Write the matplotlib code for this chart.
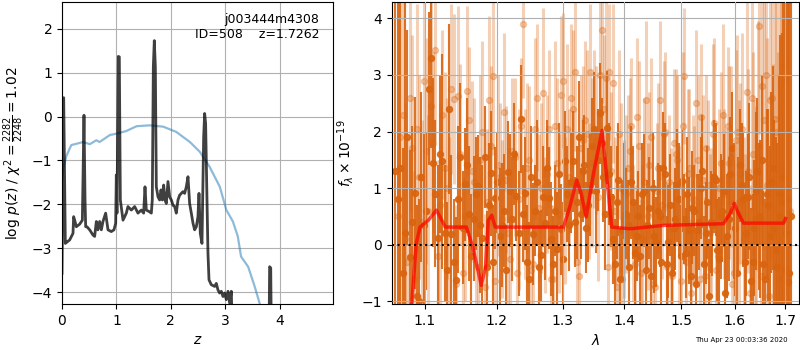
import numpy as np
import matplotlib
matplotlib.use('Agg')
import matplotlib.pyplot as plt

# ---- p(z) panel ----
z_prior = [0.0, 0.03, 0.08, 0.17, 0.39, 0.51, 0.63, 0.69, 0.88, 1.0, 1.18, 1.37,
           1.61, 1.86, 2.1, 2.35, 2.53, 2.71, 2.9, 3.02, 3.14, 3.23, 3.29, 3.42,
           3.54, 3.63, 3.70]
logp_prior = [-1.45, -1.15, -0.9, -0.65, -0.58, -0.63, -0.54, -0.58, -0.42, -0.39,
              -0.33, -0.22, -0.2, -0.23, -0.35, -0.58, -0.8, -1.14, -1.6, -2.13,
              -2.39, -2.73, -3.19, -3.42, -3.87, -4.25, -4.6]

z_fit = [0.000, 0.031, 0.061, 0.080, 0.141, 0.202, 0.214, 0.233, 0.263, 0.325,
         0.374, 0.404, 0.423, 0.435, 0.459, 0.508, 0.570, 0.600, 0.631, 0.661,
         0.692, 0.723, 0.753, 0.802, 0.845, 0.906, 0.955, 0.986, 0.998, 1.010,
         1.035, 1.053, 1.072, 1.121, 1.182, 1.212, 1.274, 1.335, 1.396, 1.457,
         1.500, 1.525, 1.549, 1.610, 1.641, 1.659, 1.678, 1.696, 1.715, 1.733,
         1.764, 1.794, 1.819, 1.843, 1.868, 1.892, 1.917, 1.947, 1.978, 2.009,
         2.039, 2.070, 2.100, 2.131, 2.162, 2.192, 2.223, 2.253, 2.284, 2.315,
         2.345, 2.376, 2.407, 2.437, 2.468, 2.498, 2.517, 2.541, 2.572, 2.603,
         2.621, 2.639, 2.664, 2.682, 2.701, 2.743, 2.805, 2.835, 2.866, 2.896,
         2.927, 2.958, 2.988, 3.019, 3.050, 3.080, 3.111, 3.123, 3.300, 3.800,
         3.815, 3.835, 3.850, 4.980]
logp_fit = [-3.57, 0.43, -2.89, -2.87, -2.81, -2.66, -2.28, -2.36, -2.51, -2.45,
            -2.36, 0.03, -1.90, -2.51, -2.51, -2.58, -2.70, -2.73, -2.39, -2.58,
            -2.39, -2.58, -2.39, -2.20, -2.58, -2.62, -2.58, -2.43, -1.33, -2.20,
            1.37, 1.36, -1.90, -2.36, -2.20, -2.05, -2.13, -2.05, -2.20, -2.13,
            -2.20, -1.60, -2.13, -2.17, -2.20, -1.90, 1.13, 1.73, 1.13, -1.60,
            -1.83, -1.90, -1.67, -1.90, -1.56, -1.90, -1.98, -1.48, -1.83, -1.90,
            -2.02, -2.05, -2.20, -1.90, -1.79, -1.75, -1.71, -1.75, -1.60, -1.37,
            -1.98, -2.20, -2.43, -2.58, -2.51, -2.28, -1.75, -2.66, -2.89, -0.46,
            0.07, -0.16, -1.90, -3.11, -3.72, -3.83, -3.87, -3.80, -3.95, -4.02,
            -3.98, -4.10, -4.02, -4.17, -3.98, -4.25, -3.98, -4.63, -5.5, -5.5,
            -3.42, -3.45, -5.5, -6.0]

# ---- spectrum panel: two dark and two light sets of binned fluxes ----
flux_a = [1.30, 1.35, 0.20, -0.22, 0.91, -1.00, 0.35, 2.76, 1.45, 0.11,
          1.47, -0.45, 0.19, -0.62, 1.55, 1.07, 0.55, 0.46, 1.03, 0.11,
          -0.40, 1.26, 0.82, 0.15, 0.60, 1.28, 0.45, 0.86, 2.22, 0.91,
          -0.60, 0.19, 1.11, -0.19, 0.38, 0.83, -0.34, -0.07, 0.27, 1.47,
          0.34, 1.47, 0.75, 0.55, 1.40, 0.70, 1.75, 0.95, 2.32, 1.20,
          2.07, 0.85, -0.35, 1.15, 0.25, 0.55, -0.40, 0.75, 0.15, -0.20,
          0.95, 0.35, -0.55, 0.15, 0.60, -0.30, 1.25, 0.05, -0.50, 0.45,
          0.80, 1.12, -0.15, 0.25, 0.65, -0.70, 0.40, 1.30, 0.20, -0.90,
          0.35, 1.15, -0.25, 0.60, -0.85, 0.45, 1.70, 0.30, 0.55, 1.05,
          -0.30, 0.85, -0.65, 0.30, 1.30, 0.45, -0.35, 0.90, 0.15, 1.35,
          -0.10, 0.50, 0.75, -0.45, -0.66, 0.50]
err_a = [6.0, 6.0, 6.0, 1.9, 1.7, 1.8, 1.6, 1.35, 1.5, 1.3,
         1.9, 1.2, 1.4, 1.1, 1.3, 1.0, 1.2, 1.1, 0.9, 1.3,
         1.0, 1.1, 0.9, 1.2, 1.0, 0.9, 1.1, 0.8, 0.95, 1.0,
         1.0, 0.9, 1.1, 0.8, 1.0, 0.9, 0.85, 1.0, 0.8, 0.9,
         0.8, 0.9, 1.0, 0.8, 0.9, 1.0, 0.85, 1.1, 0.9, 0.8,
         1.0, 0.9, 0.8, 1.0, 0.9, 0.8, 0.9, 1.0, 0.8, 0.9,
         1.0, 0.8, 0.9, 1.0, 0.85, 0.8, 0.9, 1.0, 0.8, 0.9,
         1.0, 0.9, 0.8, 0.95, 1.0, 0.9, 0.85, 1.0, 0.9, 1.0,
         0.9, 1.0, 1.1, 0.9, 1.0, 1.1, 1.0, 1.2, 1.0, 1.1,
         1.2, 1.1, 1.3, 1.2, 1.3, 1.4, 1.3, 1.5, 1.6, 1.8,
         2.0, 2.5, 3.0, 6.0, 6.0, 6.0]

flux_c = [0.8, -0.5, 1.9, 0.4, -0.9, 1.2, 0.6, 3.3, 0.9, 1.6,
          0.2, 2.4, -0.3, 0.8, 0.3, 1.4, -0.2, 0.9, 0.35, 1.55,
          0.7, -0.3, 1.1, 0.35, -0.45, 0.95, 1.6, 0.2, 0.55, -0.3,
          1.2, 0.6, -0.4, 0.85, 1.35, 0.1, 0.6, 1.25, -0.25, 0.9,
          1.1, 0.4, 1.9, 1.3, 0.3, 1.05, 2.05, 1.5, 1.8, 0.55,
          1.25, 0.1, 0.75, -0.6, 0.95, 0.35, 1.1, -0.15, 0.5, 0.9,
          -0.45, 0.65, 1.0, 0.05, 0.5, 1.35, -0.35, 0.7, 0.3, 1.05,
          -0.2, 0.45, 0.9, -0.55, 0.6, 0.25, 1.0, -0.35, 0.75, 0.4,
          1.2, -0.1, 0.5, 0.95, 0.15, 1.25, 0.6, -0.5, 1.4, 0.8,
          0.2, 1.2, -0.3, 0.95, 0.5, 1.5, -0.6, 0.7, 1.1, 0.3,
          -0.4, 0.9, 1.2, 0.2, -0.5]
err_c = [6.0, 2.2, 1.9, 1.7, 1.6, 1.5, 1.4, 1.6, 1.3, 1.4,
         1.2, 1.5, 1.1, 1.3, 1.0, 1.2, 1.1, 1.0, 1.2, 0.9,
         1.1, 1.0, 0.9, 1.1, 0.8, 1.0, 0.9, 1.1, 0.85, 1.0,
         0.9, 0.8, 1.0, 0.9, 0.85, 1.0, 0.8, 0.9, 1.0, 0.85,
         0.9, 0.8, 1.0, 0.9, 0.8, 0.9, 1.0, 0.9, 0.8, 1.0,
         0.9, 0.8, 1.0, 0.9, 0.85, 0.8, 1.0, 0.9, 0.8, 0.9,
         0.8, 0.9, 1.0, 0.8, 0.9, 1.0, 0.85, 0.9, 0.8, 1.0,
         0.9, 0.8, 1.0, 0.9, 0.8, 1.0, 0.9, 0.85, 1.0, 0.9,
         1.0, 0.9, 1.1, 1.0, 1.1, 1.0, 1.2, 1.1, 1.0, 1.2,
         1.1, 1.3, 1.2, 1.4, 1.3, 1.5, 1.4, 1.7, 1.6, 1.9,
         2.2, 2.8, 6.0, 6.0, 6.0]

flux_b = [0.5, 2.3, -0.3, 1.7, 2.05, 0.4, 1.65, 2.45, 3.44, 0.7,
          1.35, 0.3, 2.58, 2.62, -0.5, 2.72, 1.3, 0.2, 1.5, -0.75,
          2.55, 2.98, 1.4, 0.45, 1.15, -0.25, 1.55, 0.8, 3.9, 1.35,
          -0.45, 2.05, 0.65, 2.68, 1.25, -0.6, 2.1, 0.55, 2.9, 2.05,
          2.6, 3.05, -0.55, 1.85, 1.95, 3.05, 2.05, 0.85, 3.8, 2.95,
          3.05, 2.85, -0.75, 1.0, 0.45, 1.35, 2.1, -0.35, 1.75, 0.1,
          2.55, 1.4, -0.7, 0.95, 2.55, 1.95, -0.4, 0.3, 1.8, 1.5,
          -0.65, 2.98, 1.25, -0.85, 0.7, 1.5, 2.25, -0.55, 1.05, 0.4,
          2.15, -0.2, 1.45, 0.9, 2.1, 1.55, -0.5, 2.0, 1.25, 0.1,
          2.7, -0.85, 1.6, 0.45, 3.86, 2.8, 3.0, -0.9, 2.6, 2.22,
          0.4, 1.3, 3.15, 1.0, 0.6]
err_b = [6, 6, 2.2, 2.0, 2.2, 1.8, 2.0, 1.9, 1.6, 1.8,
         1.7, 1.6, 1.5, 1.6, 1.7, 1.5, 1.6, 1.4, 1.5, 1.3,
         1.5, 1.4, 1.6, 1.4, 1.3, 1.5, 1.4, 1.6, 1.3, 1.5,
         1.4, 1.6, 1.3, 1.5, 1.4, 1.3, 1.5, 1.4, 1.2, 1.5,
         1.3, 1.4, 1.5, 1.3, 1.5, 1.2, 1.4, 1.5, 1.3, 1.4,
         1.2, 1.4, 1.3, 1.5, 1.4, 1.3, 1.2, 1.4, 1.5, 1.3,
         1.4, 1.3, 1.5, 1.2, 1.4, 1.3, 1.5, 1.4, 1.3, 1.5,
         1.4, 1.2, 1.5, 1.3, 1.4, 1.5, 1.3, 1.4, 1.5, 1.3,
         1.5, 1.4, 1.6, 1.5, 1.4, 1.6, 1.5, 1.7, 1.6, 1.8,
         1.7, 1.9, 1.8, 2.0, 1.9, 2.1, 2.2, 2.4, 2.3, 2.6,
         3.0, 6, 6, 6, 6]

flux_d = [1.9, 0.1, 2.6, -0.6, 1.2, 2.9, 0.6, 1.8, -0.2, 2.3,
          1.0, 2.75, -0.7, 1.6, 0.5, 2.2, 1.1, -0.4, 2.0, 0.75,
          1.75, -0.65, 1.2, 2.35, 0.2, 1.65, -0.5, 2.1, 0.9, 1.5,
          -0.35, 2.6, 1.0, 0.35, 2.05, -0.6, 1.45, 2.65, 0.6, 1.2,
          2.4, -0.3, 1.7, 2.2, 0.95, 1.45, 1.85, 3.0, 2.4, -0.4,
          1.3, 0.6, 1.95, -0.6, 0.9, 1.65, 0.2, 2.25, -0.5, 1.1,
          0.5, 1.9, -0.75, 1.35, 0.7, 2.0, 1.1, -0.55, 1.6, 0.35,
          2.1, -0.3, 1.35, 0.8, 2.5, -0.6, 1.15, 1.7, 0.2, 1.95,
          -0.45, 1.0, 2.3, 0.55, 1.45, -0.7, 1.85, 0.75, 2.05, -0.3,
          1.3, 2.6, 0.45, 1.75, -0.55, 2.2, 1.05, 2.55, 0.2, 2.0,
          -0.6, 1.4, 2.9, 0.8]
err_d = [6, 2.4, 2.0, 1.9, 1.8, 1.9, 1.7, 1.6, 1.7, 1.5,
         1.6, 1.5, 1.4, 1.6, 1.5, 1.3, 1.5, 1.4, 1.6, 1.3,
         1.4, 1.5, 1.3, 1.4, 1.5, 1.3, 1.4, 1.2, 1.5, 1.3,
         1.4, 1.3, 1.5, 1.2, 1.4, 1.3, 1.5, 1.4, 1.3, 1.2,
         1.4, 1.5, 1.3, 1.4, 1.2, 1.5, 1.3, 1.4, 1.3, 1.2,
         1.4, 1.3, 1.5, 1.2, 1.4, 1.3, 1.2, 1.4, 1.3, 1.5,
         1.3, 1.4, 1.2, 1.5, 1.3, 1.4, 1.2, 1.3, 1.5, 1.4,
         1.3, 1.2, 1.4, 1.5, 1.3, 1.4, 1.5, 1.3, 1.4, 1.6,
         1.5, 1.4, 1.6, 1.5, 1.7, 1.5, 1.6, 1.8, 1.7, 1.9,
         1.8, 2.0, 2.1, 2.2, 2.4, 2.3, 2.6, 2.8, 3.0, 3.4,
         6, 6, 6, 6]

# evenly sampled grism wavelengths (microns)
wave_a = np.linspace(1.062, 1.712, len(flux_a))
wave_c = np.linspace(1.065, 1.709, len(flux_c))
wave_b = np.linspace(1.065, 1.710, len(flux_b))
wave_d = np.linspace(1.068, 1.707, len(flux_d))

wave_model = [1.075, 1.081, 1.084, 1.089, 1.094, 1.105, 1.116, 1.128, 1.157, 1.166,
              1.178, 1.184, 1.188, 1.193, 1.198, 1.301, 1.311, 1.322, 1.329, 1.337,
              1.349, 1.363, 1.368, 1.379, 1.410, 1.468, 1.578, 1.591, 1.599, 1.607,
              1.617, 1.697, 1.701]
flux_model = [-2.5, -1.5, -0.9, 0.02, 0.31, 0.43, 0.61, 0.31, 0.31, -0.04,
              -0.72, -0.40, 0.43, 0.52, 0.31, 0.31, 0.67, 1.14, 0.90, 0.49,
              1.26, 2.02, 1.49, 0.31, 0.28, 0.34, 0.37, 0.55, 0.73, 0.55,
              0.38, 0.38, 0.46]

wave_ticks = [1.1, 1.2, 1.3, 1.4, 1.5, 1.6, 1.7]

fig = plt.figure(figsize=(8, 3.5), dpi=100)
ax = fig.add_axes([0.0775, 0.1314, 0.3388, 0.8629])
ax.plot(z_prior, logp_prior, color='tab:blue', alpha=0.5, lw=1.6)
ax.plot(z_fit, logp_fit, color='k', alpha=0.75, lw=2)
ax.set_xlim(0, 4.98)
ax.set_ylim(-4.27, 2.61)
ax.set_xticks([0, 1, 2, 3, 4])
ax.set_yticks([-4, -3, -2, -1, 0, 1, 2])
ax.grid()
ax.set_xlabel('$z$')
ax.set_ylabel(r'log $p(z)$ / $\chi^2=\frac{2282}{2248}=1.02$')
ax.text(0.95, 0.965, 'j003444m4308\nID=508    z=1.7262', ha='right', va='top',
        transform=ax.transAxes, fontsize=9)

ax = fig.add_axes([0.4894, 0.1314, 0.5094, 0.8629])
c = '#d9640f'
for w, f, e in [(wave_b, flux_b, err_b), (wave_d, flux_d, err_d)]:
    ax.errorbar(w, f, yerr=e, marker='o', ms=4.3, ls='None',
                color=c, alpha=0.3, elinewidth=2.2, zorder=1)
for w, f, e in [(wave_a, flux_a, err_a), (wave_c, flux_c, err_c)]:
    ax.errorbar(w, f, yerr=e, marker='o', ms=4.3, ls='None',
                color=c, alpha=0.9, elinewidth=1.5, zorder=1.2)
ax.plot(wave_model, flux_model, color='r', alpha=0.7, lw=2.5, zorder=3)
ax.axhline(0, color='k', ls=':', lw=1.5, zorder=3)
ax.set_xscale('log')
ax.set_xlim(1.057, 1.729)
ax.set_ylim(-1.05, 4.29)
ax.set_xticks(wave_ticks)
ax.set_xticklabels([str(w) for w in wave_ticks])
ax.minorticks_off()
ax.set_yticks([-1, 0, 1, 2, 3, 4])
ax.set_axisbelow(False)
ax.grid(zorder=2)
ax.set_xlabel(r'$\lambda$')
ax.set_ylabel(r'$f_\lambda\times10^{-19}$')

fig.text(0.985, 0.02, 'Thu Apr 23 00:03:36 2020', ha='right', va='bottom', fontsize=5)

fig.savefig('out.png', dpi=100)
